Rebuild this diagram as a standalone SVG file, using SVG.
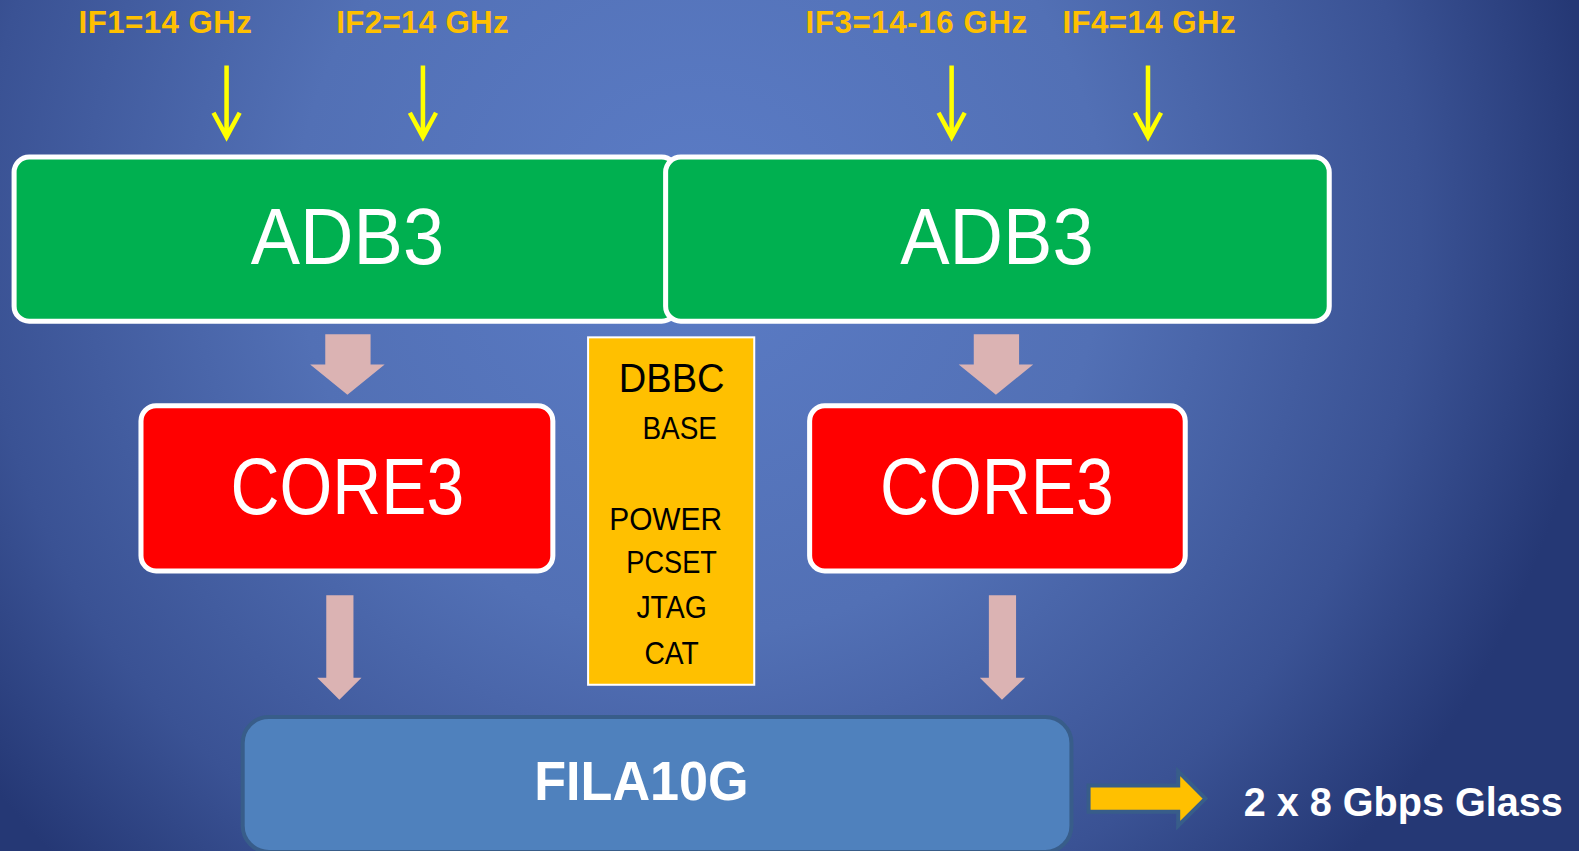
<svg xmlns="http://www.w3.org/2000/svg" width="1579" height="851" viewBox="0 0 1579 851">
<defs>
<radialGradient id="bg" cx="700" cy="230" r="900" gradientUnits="userSpaceOnUse">
<stop offset="0" stop-color="#5b7cc6"/>
<stop offset="0.45" stop-color="#5270b5"/>
<stop offset="0.8" stop-color="#3a5294"/>
<stop offset="1" stop-color="#253875"/>
</radialGradient>
<style>
.lbl{font-family:"Liberation Sans",Arial,sans-serif;font-weight:bold;font-size:31px;fill:#ffc000}
.big{font-family:"Liberation Sans",Arial,sans-serif;fill:#fff;text-anchor:middle}
.blk{font-family:"Liberation Sans",Arial,sans-serif;fill:#000;text-anchor:middle}
.yl{stroke:#ffff00;stroke-width:4.5;fill:none}
.pk{fill:#dbb3b3}
</style>
</defs>
<rect width="1579" height="851" fill="url(#bg)"/>
<g transform="scale(1.007)">
<g id="labels">
<text class="lbl" x="78" y="33" textLength="172">IF1=14 GHz</text>
<text class="lbl" x="334" y="33" textLength="171">IF2=14 GHz</text>
<text class="lbl" x="800" y="33" textLength="220">IF3=14-16 GHz</text>
<text class="lbl" x="1055" y="33" textLength="172">IF4=14 GHz</text>
</g>

<g id="connectors">
<path class="yl" d="M225 65V136M212 112L225 136L238 112"/>
<path class="yl" d="M420 65V136M407 112L420 136L433 112"/>
<path class="yl" d="M945 65V136M932 112L945 136L958 112"/>
<path class="yl" d="M1140 65V136M1127 112L1140 136L1153 112"/>
<path class="pk" d="M323 332H368V362H382L345 392L308 362H323Z"/>
<path class="pk" d="M967 332H1012V362H1026L989 392L952 362H967Z"/>
<path class="pk" d="M324 591H351V673H359L337 695L315 673H324Z"/>
<path class="pk" d="M982 591H1009V673H1018L995 695L973 673H982Z"/>
<path d="M1081 780H1170V766L1197 793L1170 820V806H1081Z" fill="#ffc000" stroke="#385d8a" stroke-width="4"/>
</g>

<g id="adb3-left">
<rect x="14" y="156" width="658" height="163" rx="15" fill="#00b050" stroke="#fff" stroke-width="5"/>
<text class="big" x="345" y="262" font-size="80" textLength="192" lengthAdjust="spacingAndGlyphs">ADB3</text>
</g>
<g id="adb3-right">
<rect x="661" y="156" width="659" height="163" rx="15" fill="#00b050" stroke="#fff" stroke-width="5"/>
<text class="big" x="990" y="262" font-size="80" textLength="192" lengthAdjust="spacingAndGlyphs">ADB3</text>
</g>

<g id="core3-left">
<rect x="140" y="403" width="409" height="164" rx="15" fill="#ff0000" stroke="#fff" stroke-width="5"/>
<text class="big" x="345" y="510" font-size="80" textLength="232" lengthAdjust="spacingAndGlyphs">CORE3</text>
</g>
<g id="core3-right">
<rect x="804" y="403" width="373" height="164" rx="15" fill="#ff0000" stroke="#fff" stroke-width="5"/>
<text class="big" x="990" y="510" font-size="80" textLength="232" lengthAdjust="spacingAndGlyphs">CORE3</text>
</g>

<g id="dbbc">
<rect x="584" y="335" width="165" height="345" fill="#ffc000" stroke="#fff" stroke-width="2"/>
<text class="blk" x="667" y="389" font-size="41" textLength="105" lengthAdjust="spacingAndGlyphs">DBBC</text>
<text class="blk" x="675" y="436" font-size="31" textLength="74" lengthAdjust="spacingAndGlyphs">BASE</text>
<text class="blk" x="661" y="526" font-size="31" textLength="112" lengthAdjust="spacingAndGlyphs">POWER</text>
<text class="blk" x="667" y="569" font-size="31" textLength="90" lengthAdjust="spacingAndGlyphs">PCSET</text>
<text class="blk" x="667" y="614" font-size="31" textLength="70" lengthAdjust="spacingAndGlyphs">JTAG</text>
<text class="blk" x="667" y="659" font-size="31" textLength="54" lengthAdjust="spacingAndGlyphs">CAT</text>
</g>

<g id="fila10g">
<rect x="241" y="712" width="823" height="134" rx="26" fill="#4f81bd" stroke="#385d8a" stroke-width="4"/>
<text class="big" x="637" y="794" font-size="56" font-weight="bold" textLength="213" lengthAdjust="spacingAndGlyphs">FILA10G</text>
</g>

<g id="output-label">
<text x="1235" y="810" font-family="'Liberation Sans',Arial,sans-serif" font-weight="bold" font-size="40" fill="#fff" textLength="317" lengthAdjust="spacingAndGlyphs">2 x 8 Gbps Glass</text>
</g>
</g>
</svg>
